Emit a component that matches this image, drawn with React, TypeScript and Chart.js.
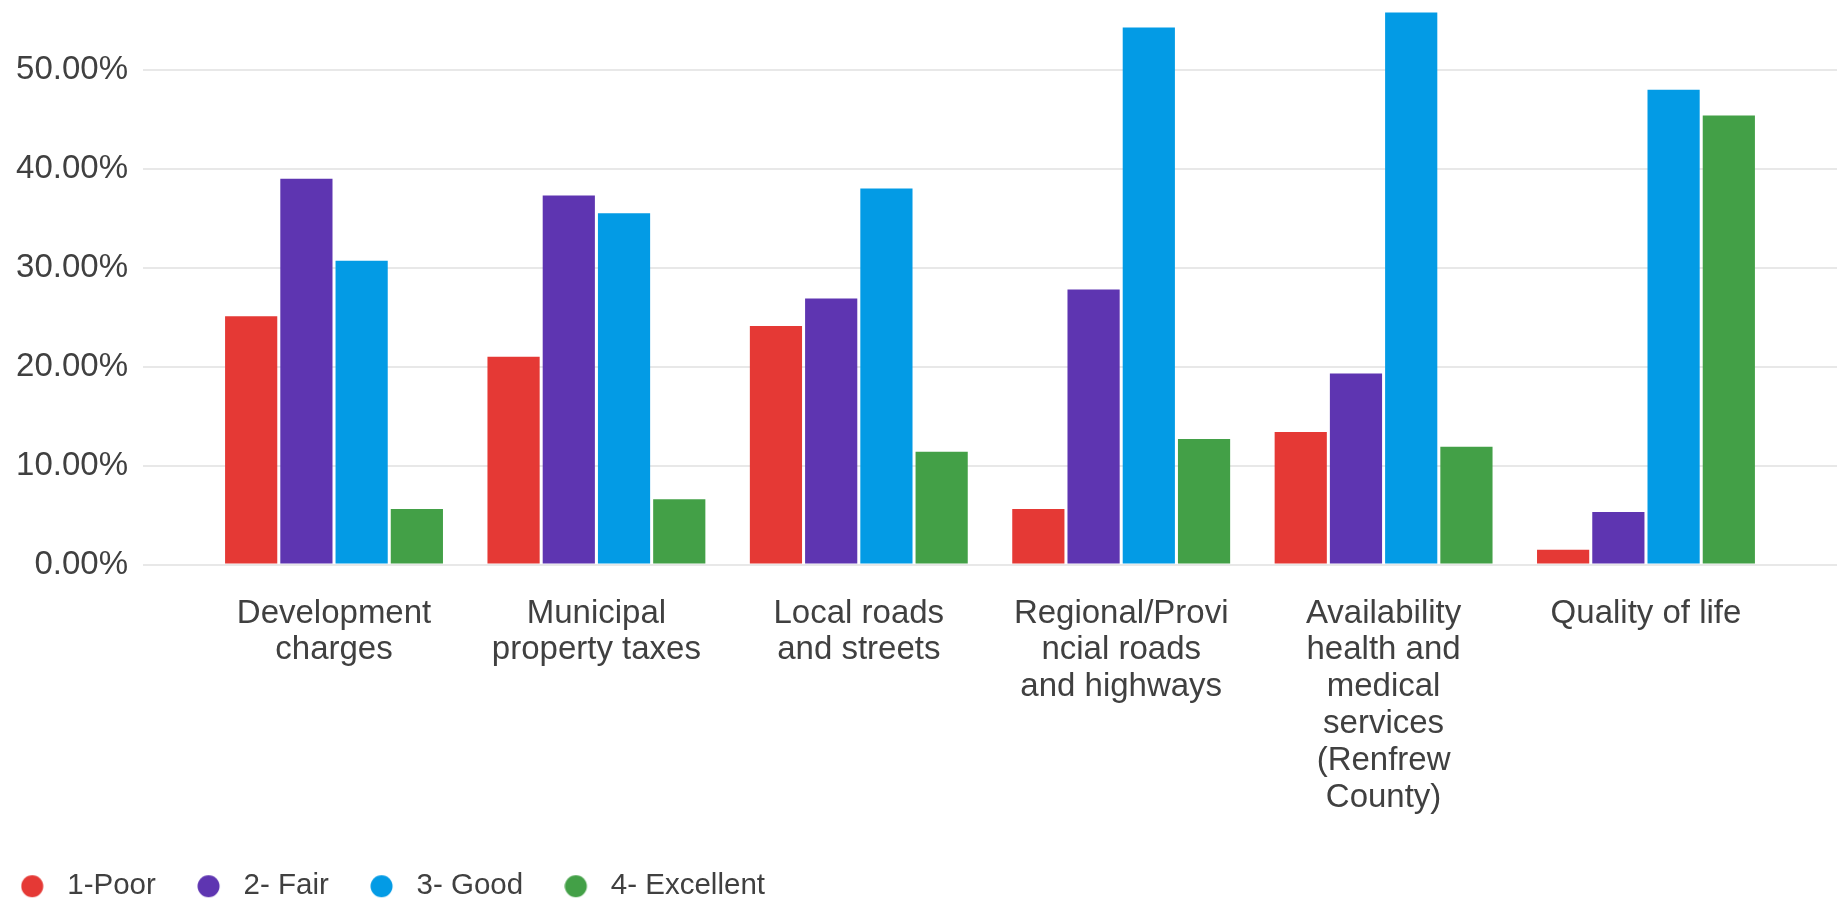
import React, { useEffect, useRef } from 'react';
import { Chart, registerables } from 'chart.js';

Chart.register(...registerables);

// Category labels (wrapped as in the reference)
const categoryLines: string[][] = [
  ['Development', 'charges'],
  ['Municipal', 'property taxes'],
  ['Local roads', 'and streets'],
  ['Regional/Provi', 'ncial roads', 'and highways'],
  ['Availability', 'health and', 'medical', 'services', '(Renfrew', 'County)'],
  ['Quality of life'],
];

const seriesNames = ['1-Poor', '2- Fair', '3- Good', '4- Excellent'];

const poor = [25.1, 21.0, 24.1, 5.6, 13.4, 1.5];
const fair = [39.0, 37.3, 26.9, 27.8, 19.3, 5.3];
const good = [30.7, 35.5, 38.0, 54.3, 55.8, 48.0];
const excellent = [5.6, 6.6, 11.4, 12.7, 11.9, 45.4];

const seriesColors = ['#E53935', '#5E35B1', '#039BE5', '#43A047'];

const yMin = 0;
const yMax = 60;
const yStep = 10;

const FONT = "'Liberation Sans', Arial, Helvetica, sans-serif";
const TEXT = '#404040';

const CANVAS_W = 1863;
const CANVAS_H = 940;

// legend marker: a circle drawn slightly left of the image centre
function makeMarker(color: string): HTMLCanvasElement {
  const c = document.createElement('canvas');
  c.width = 34;
  c.height = 24;
  const ctx = c.getContext('2d') as CanvasRenderingContext2D;
  ctx.fillStyle = color;
  ctx.beginPath();
  ctx.arc(11.5, 12, 11, 0, Math.PI * 2);
  ctx.fill();
  return c;
}

export default function App() {
  const ref = useRef<HTMLCanvasElement>(null);

  useEffect(() => {
    const series = [poor, fair, good, excellent];
    const datasets = series.map((vals, si) => ({
      label: seriesNames[si],
      data: vals.map((v, i) => ({ x: i, y: v })),
      backgroundColor: seriesColors[si],
      borderColor: seriesColors[si],
      borderWidth: 0,
      pointStyle: makeMarker(seriesColors[si]),
    }));

    const chart = new Chart(ref.current as HTMLCanvasElement, {
      type: 'bar',
      data: { datasets: datasets as any },
      options: {
        animation: false,
        responsive: false,
        maintainAspectRatio: false,
        layout: { padding: { left: 5.5, right: 0, top: 0, bottom: 0 } },
        datasets: {
          bar: {
            categoryPercentage: 0.842,
            barPercentage: 0.945,
          },
        },
        plugins: {
          tooltip: { enabled: false },
          legend: {
            position: 'bottom',
            align: 'start',
            labels: {
              usePointStyle: true,
              boxWidth: 29.5,
              boxHeight: 29.5,
              padding: 43.5,
              color: TEXT,
              font: { family: FONT, size: 29.5 },
            },
          },
        },
        scales: {
          x: {
            type: 'linear',
            offset: false,
            min: -0.728,
            max: 5.728,
            grid: { display: false, drawTicks: false, offset: false },
            border: { display: false },
            ticks: {
              stepSize: 1,
              includeBounds: false,
              autoSkip: false,
              maxRotation: 0,
              minRotation: 0,
              padding: 30.5,
              color: TEXT,
              font: { family: FONT, size: 33, lineHeight: 1.118 },
              callback: (v: any) => {
                const i = Number(v);
                return Number.isInteger(i) && categoryLines[i] ? categoryLines[i] : '';
              },
            },
            afterFit: (s: any) => {
              s.height = 263.5;
              s.paddingLeft = 0;
              s.paddingRight = 0;
            },
          } as any,
          y: {
            min: yMin,
            max: yMax,
            grid: { color: '#e8e8e8', lineWidth: 2, drawTicks: false },
            border: { display: false },
            ticks: {
              stepSize: yStep,
              padding: 15,
              color: TEXT,
              font: { family: FONT, size: 33 },
              callback: (v: any) => Number(v).toFixed(2) + '%',
            },
            afterFit: (s: any) => {
              s.width = 163.5;
              s.paddingTop = 0;
              s.paddingBottom = 0;
            },
          } as any,
        },
      },
    });
    return () => chart.destroy();
  }, []);

  return (
    <div
      style={{
        position: 'fixed',
        left: -26,
        top: -29,
        width: CANVAS_W,
        height: CANVAS_H,
        background: '#ffffff',
      }}
    >
      <canvas
        ref={ref}
        width={CANVAS_W}
        height={CANVAS_H}
        style={{ display: 'block', width: CANVAS_W, height: CANVAS_H }}
      />
    </div>
  );
}
